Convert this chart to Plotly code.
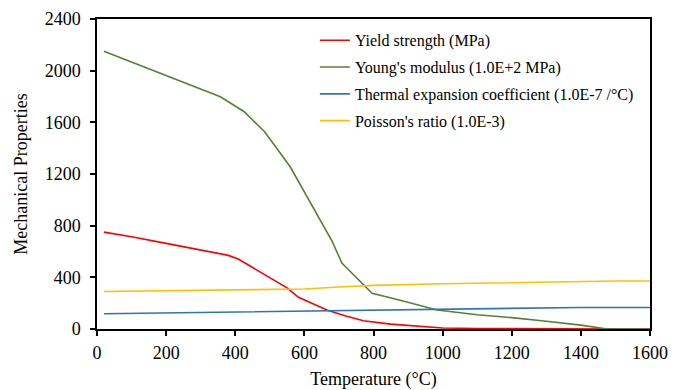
import plotly.graph_objects as go

# Temperature (°C) sample points and series values
yield_T = [20, 100, 200, 300, 380, 410, 480, 550, 583, 620, 665, 720, 771, 850, 935, 1000, 1100, 1200, 1300, 1400, 1500, 1600]
yield_V = [750, 714, 663, 612, 570, 540, 432, 318, 245, 200, 147, 100, 64, 38, 20, 8, 4, 2, 1, 0, 0, 0]

young_T = [20, 100, 200, 300, 357, 426, 485, 559, 617, 680, 709, 796, 880, 984, 1100, 1200, 1300, 1400, 1476, 1600]
young_V = [2150, 2066, 1962, 1858, 1798, 1682, 1527, 1256, 985, 680, 508, 276, 220, 147, 110, 88, 60, 30, 0, 0]

thermal_T = [20, 200, 400, 600, 800, 1000, 1200, 1400, 1600]
thermal_V = [118, 124, 132, 139, 146, 153, 160, 167, 167]

poisson_T = [20, 200, 400, 600, 700, 800, 1000, 1200, 1400, 1500, 1600]
poisson_V = [290, 295, 302, 310, 325, 338, 350, 360, 368, 372, 372]

names = [
    "Yield strength (MPa)",
    "Young's modulus (1.0E+2 MPa)",
    "Thermal expansion coefficient (1.0E-7 /°C)",
    "Poisson's ratio (1.0E-3)",
]
colors = ["#FF0000", "#548235", "#2E75B6", "#FFC000"]

x_ticks = [0, 200, 400, 600, 800, 1000, 1200, 1400, 1600]
y_ticks = [0, 400, 800, 1200, 1600, 2000, 2400]

FONT = "Liberation Serif"

fig = go.Figure()
for i, (xs, ys) in enumerate([(yield_T, yield_V), (young_T, young_V),
                              (thermal_T, thermal_V), (poisson_T, poisson_V)]):
    fig.add_trace(go.Scatter(x=xs, y=ys, mode="lines", name=names[i],
                             legendgroup=str(i),
                             line=dict(color=colors[i], width=1.6)))

fig.update_layout(
    width=681, height=390,
    margin=dict(l=97, r=31, t=19, b=61),
    paper_bgcolor="white", plot_bgcolor="white",
    font=dict(family=FONT, size=16, color="black"),
    showlegend=True,
    legend=dict(x=0.394, y=0.986, xanchor="left", yanchor="top",
                bgcolor="rgba(0,0,0,0)", font=dict(family=FONT, size=16, color="black"),
                tracegroupgap=3),
    xaxis=dict(range=[0, 1600], tickvals=x_ticks, ticks="outside", ticklen=5,
               tickwidth=1.5, tickcolor="black", showline=True, linecolor="black",
               linewidth=1.5, mirror=True, showgrid=False, zeroline=False,
               automargin=False, ticklabelstandoff=2,
               tickfont=dict(family=FONT, size=18, color="black"),
               title=dict(text="Temperature (°C)", font=dict(family=FONT, size=18, color="black"),
                          standoff=24)),
    yaxis=dict(range=[0, 2400], tickvals=y_ticks, ticks="outside", ticklen=5,
               tickwidth=1.5, tickcolor="black", showline=True, linecolor="black",
               linewidth=1.5, mirror=True, showgrid=False, zeroline=False,
               automargin=False, ticklabelstandoff=6,
               tickfont=dict(family=FONT, size=18, color="black"),
               title=dict(text="Mechanical Properties", font=dict(family=FONT, size=18, color="black"),
                          standoff=12)),
)

fig.write_html("out.html")
